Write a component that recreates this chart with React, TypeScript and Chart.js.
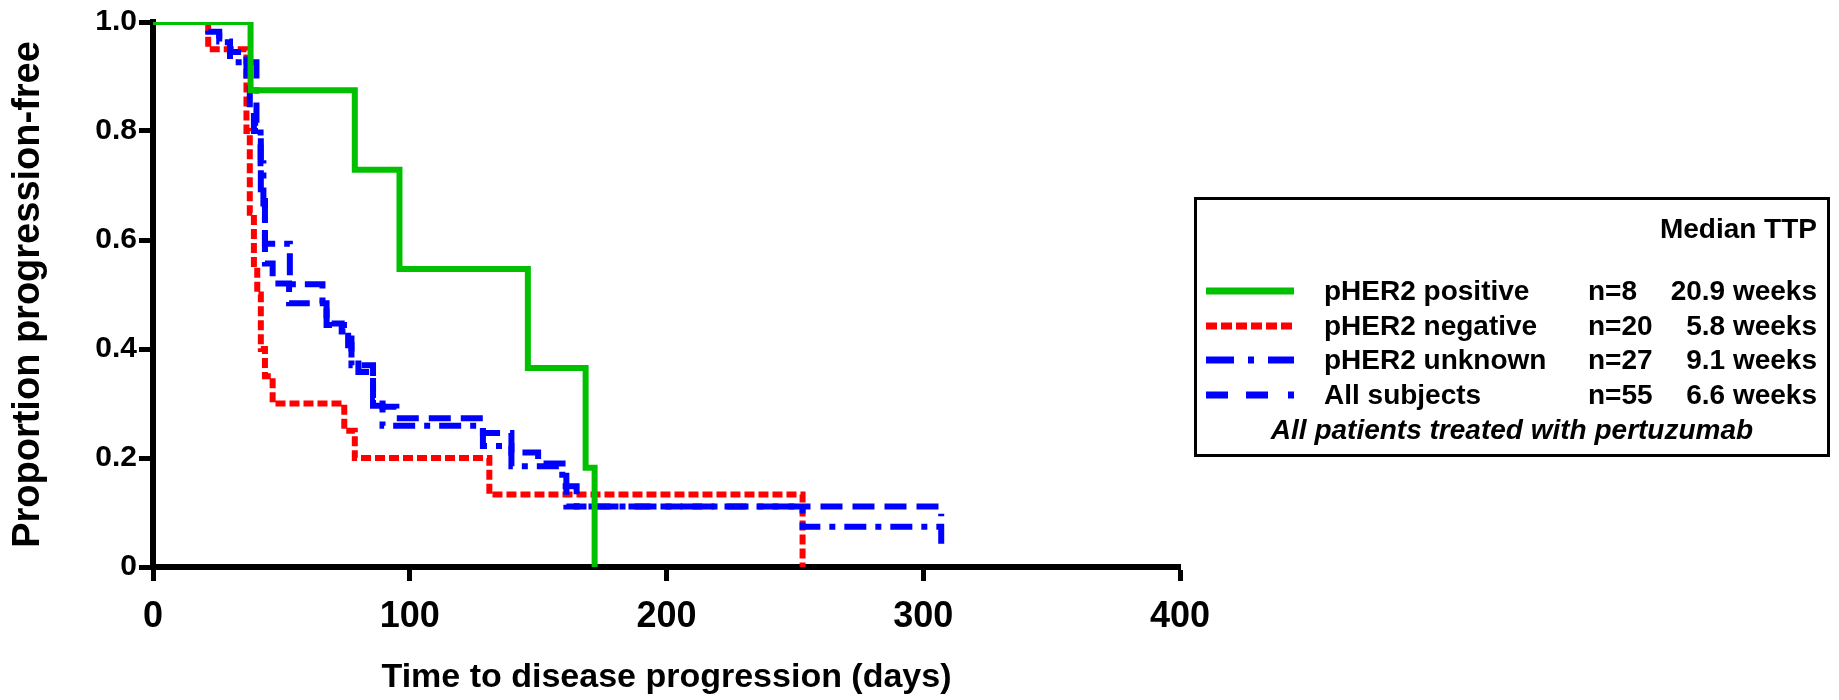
import React, { useEffect, useRef } from "react";
import { Chart, registerables } from "chart.js";

Chart.register(...registerables);

// ---- data (days, proportion progression-free) ----
const positiveDays = [0, 38, 78.6, 96, 146, 168.5, 172];
const positiveProp = [1, 0.875, 0.729, 0.547, 0.365, 0.182, 0];

const negativeDays = [0, 21.5, 36.4, 37.7, 39.3, 40.6, 42, 43.6, 46.6, 74.5, 78.6, 131, 253];
const negativeProp = [1, 0.95, 0.8, 0.65, 0.55, 0.5, 0.4, 0.35, 0.3, 0.25, 0.2, 0.133, 0];

const unknownDays = [0, 25.8, 30, 40.3, 41.9, 43, 43.6, 53.3, 66, 67.6, 76, 77.3, 85.7, 89.4, 128.5, 139.6, 159.4, 165, 253, 307];
const unknownProp = [1, 0.963, 0.926, 0.815, 0.741, 0.667, 0.593, 0.519, 0.481, 0.444, 0.407, 0.37, 0.296, 0.259, 0.222, 0.185, 0.148, 0.111, 0.074, 0.037];

const allDays = [0, 21.5, 25.8, 30, 36.4, 37.7, 39.3, 42, 43.6, 46.6, 53, 67.6, 73.5, 77.3, 80, 85.7, 89.4, 94.8, 128.5, 139.6, 150, 161, 307];
const allProp = [1, 0.982, 0.964, 0.945, 0.891, 0.836, 0.8, 0.68, 0.557, 0.52, 0.484, 0.447, 0.432, 0.38, 0.358, 0.31, 0.294, 0.273, 0.246, 0.21, 0.19, 0.111, 0.093];

const xTicks = [0, 100, 200, 300, 400];
const yTicks = [0, 0.2, 0.4, 0.6, 0.8, 1.0];

const legendLabels = ["pHER2 positive", "pHER2 negative", "pHER2 unknown", "All subjects"];
const legendN = ["n=8", "n=20", "n=27", "n=55"];
const legendMedian = ["20.9 weeks", "5.8 weeks", "9.1 weeks", "6.6 weeks"];

const GREEN = "#00c000";
const RED = "#ff0000";
const BLUE = "#0000ff";
const FONT = "'Liberation Sans', Arial, Helvetica, sans-serif";

function pts(xs: number[], ys: number[]) {
  return xs.map((x, i) => ({ x, y: ys[i] }));
}

export default function App() {
  const ref = useRef<HTMLCanvasElement | null>(null);

  useEffect(() => {
    if (!ref.current) return;
    const common = { stepped: true as const, pointRadius: 0, fill: false, borderWidth: 6, borderCapStyle: "butt" as const };
    const chart = new Chart(ref.current, {
      type: "line",
      data: {
        datasets: [
          { ...common, label: "pHER2 positive", data: pts(positiveDays, positiveProp), borderColor: GREEN },
          { ...common, label: "pHER2 unknown", data: pts(unknownDays, unknownProp), borderColor: BLUE, borderDash: [22, 9, 6, 9] },
          { ...common, label: "All subjects", data: pts(allDays, allProp), borderColor: BLUE, borderDash: [22, 10] },
          { ...common, label: "pHER2 negative", data: pts(negativeDays, negativeProp), borderColor: RED, borderDash: [10, 4] },
        ],
      },
      options: {
        animation: false,
        responsive: false,
        events: [],
        layout: { padding: { left: 0, right: 659, top: 22, bottom: 0 } },
        plugins: { legend: { display: false }, tooltip: { enabled: false } },
        scales: {
          x: {
            type: "linear",
            min: 0,
            max: 400,
            afterBuildTicks: (s: any) => { s.ticks = xTicks.map((v) => ({ value: v })); },
            afterFit: (s: any) => { s.height = 133; },
            ticks: { color: "#000", font: { family: FONT, weight: "bold", size: 36 }, padding: 14, maxRotation: 0 },
            grid: { display: true, drawOnChartArea: false, drawTicks: true, tickLength: 14, tickWidth: 5, tickColor: "#000" },
            border: { display: true, width: 6, color: "#000" },
            title: { display: true, text: "Time to disease progression (days)", color: "#000", font: { family: FONT, weight: "bold", size: 34 }, padding: { top: 0, bottom: 2 } },
          },
          y: {
            type: "linear",
            min: 0,
            max: 1,
            afterBuildTicks: (s: any) => { s.ticks = yTicks.map((v) => ({ value: v })); },
            afterFit: (s: any) => { s.width = 153; },
            ticks: {
              color: "#000",
              font: { family: FONT, weight: "bold", size: 30 },
              padding: 2,
              callback: (v: any) => (Number(v) === 0 ? "0" : Number(v).toFixed(1)),
            },
            grid: { display: true, drawOnChartArea: false, drawTicks: true, tickLength: 14, tickWidth: 5, tickColor: "#000" },
            border: { display: true, width: 6, color: "#000" },
            title: { display: true, text: "Proportion progression-free", color: "#000", font: { family: FONT, weight: "bold", size: 38 }, padding: { top: 6, bottom: 0 } },
          },
        },
      },
    });
    return () => chart.destroy();
  }, []);

  const rowY = [291, 326, 360, 395];
  const txt: React.CSSProperties = { position: "absolute", fontFamily: FONT, fontWeight: "bold", fontSize: 28, lineHeight: "30px", whiteSpace: "nowrap", color: "#000" };

  const sample = (i: number) => {
    const y = 15;
    if (i === 0) return <line x1={0} y1={y} x2={88} y2={y} stroke={GREEN} strokeWidth={7} />;
    if (i === 1) return <line x1={0} y1={y} x2={88} y2={y} stroke={RED} strokeWidth={7} strokeDasharray="11 4" />;
    if (i === 2) return <line x1={0} y1={y} x2={88} y2={y} stroke={BLUE} strokeWidth={7} strokeDasharray="28 14 6 14 26" />;
    return <line x1={0} y1={y} x2={88} y2={y} stroke={BLUE} strokeWidth={7} strokeDasharray="22 18 22 20 6" />;
  };

  return (
    <div style={{ position: "relative", width: 1839, height: 700, overflow: "hidden", background: "#fff" }}>
      <style>{`body{margin:0;background:#fff;}`}</style>
      <canvas ref={ref} width={1839} height={700} style={{ position: "absolute", left: 0, top: 0, width: 1839, height: 700 }} />
      <div style={{ position: "absolute", left: 1194, top: 197, width: 630, height: 254, border: "3px solid #000" }} />
      <div style={{ ...txt, right: 1839 - 1817, top: 229 - 15 }}>Median TTP</div>
      {legendLabels.map((l, i) => (
        <React.Fragment key={l}>
          <svg style={{ position: "absolute", left: 1206, top: rowY[i] - 15 }} width={88} height={30}>{sample(i)}</svg>
          <div style={{ ...txt, left: 1324, top: rowY[i] - 15 }}>{l}</div>
          <div style={{ ...txt, left: 1588, top: rowY[i] - 15 }}>{legendN[i]}</div>
          <div style={{ ...txt, right: 1839 - 1817, top: rowY[i] - 15 }}>{legendMedian[i]}</div>
        </React.Fragment>
      ))}
      <div style={{ ...txt, left: 1194, width: 636, textAlign: "center", top: 430 - 15, fontStyle: "italic" }}>All patients treated with pertuzumab</div>
    </div>
  );
}
